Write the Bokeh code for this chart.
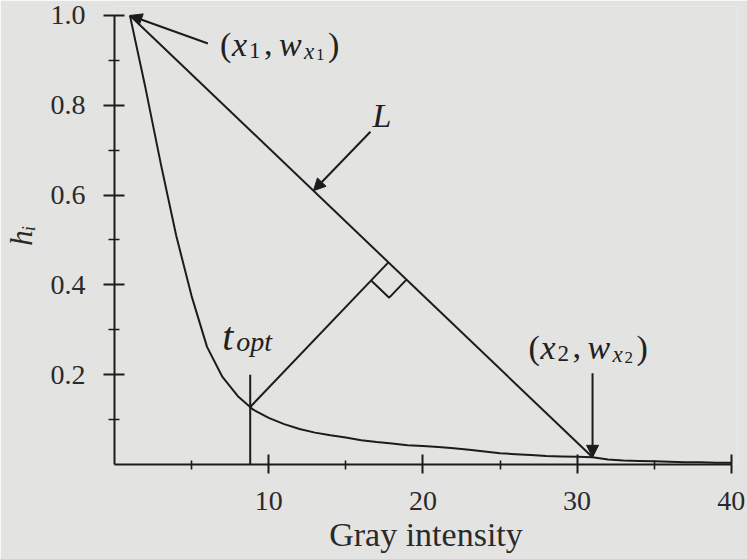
import numpy as np
from bokeh.plotting import figure
from bokeh.models import Range1d, FixedTicker, PrintfTickFormatter, Arrow, NormalHead
from bokeh.core.properties import value
from bokeh.embed import file_html
from bokeh.resources import INLINE

# normalised histogram profile h_i over gray levels
gray = list(range(1, 41))
h = [1.0, 0.84, 0.67, 0.51, 0.375, 0.262, 0.195, 0.152, 0.122, 0.104,
     0.090, 0.079, 0.071, 0.065, 0.060, 0.054, 0.050, 0.047, 0.043, 0.041,
     0.039, 0.036, 0.033, 0.029, 0.025, 0.023, 0.021, 0.019, 0.018, 0.017,
     0.016, 0.011, 0.009, 0.008, 0.007, 0.006, 0.005, 0.005, 0.004, 0.004]

x1, x2 = 1, 31          # end points of the line L
t_opt = 8.8             # threshold with the largest distance to L
x_L = 12.9              # where the "L" pointer touches the line

x_ticks = [10, 20, 30, 40]
x_minor = [5, 15, 25, 35]
y_ticks = [0.2, 0.4, 0.6, 0.8, 1.0]
y_minor = [0.1, 0.3, 0.5, 0.7, 0.9]

# ---- layout -------------------------------------------------------------
W, H = 747, 559
LEFT, RIGHT, TOP, BOTTOM = 114, 10, 6, 95
X0, X1 = 0, 40.4
Y0, Y1 = 0, 1.02
SX = (W - LEFT - RIGHT) / (X1 - X0)     # px per gray level
SY = (H - TOP - BOTTOM) / (Y1 - Y0)     # px per unit of h

BG = "#e3e3e1"
INK = "#1c1c1c"
SERIF = "Liberation Serif"

p = figure(width=W, height=H, x_range=Range1d(X0, X1), y_range=Range1d(Y0, Y1),
           output_backend="svg", toolbar_location=None,
           min_border_left=LEFT, min_border_right=RIGHT,
           min_border_top=TOP, min_border_bottom=BOTTOM,
           background_fill_color=BG, border_fill_color=BG,
           outline_line_color=None)
p.grid.visible = False

for ax in (p.xaxis[0], p.yaxis[0]):
    ax.axis_line_color = INK
    ax.axis_line_width = 2
    ax.major_tick_line_color = INK
    ax.major_tick_line_width = 2
    ax.minor_tick_line_color = INK
    ax.minor_tick_line_width = 1.6
    ax.major_label_text_font = SERIF
    ax.major_label_text_font_size = "28px"
    ax.major_label_text_color = "#2a2a2a"
    ax.axis_label_text_font = SERIF
    ax.axis_label_text_color = "#2a2a2a"

xa = p.xaxis[0]
xa.ticker = FixedTicker(ticks=x_ticks, minor_ticks=x_minor)
xa.formatter = PrintfTickFormatter(format="%d")
xa.bounds = (0, 40)
xa.major_tick_in, xa.major_tick_out = 10, 9
xa.minor_tick_in, xa.minor_tick_out = 4, 5
xa.major_label_standoff = 18
xa.axis_label = "Gray intensity"
xa.axis_label_text_font_style = "normal"
xa.axis_label_text_font_size = "34px"
xa.axis_label_standoff = 3

ya = p.yaxis[0]
ya.ticker = FixedTicker(ticks=y_ticks, minor_ticks=y_minor)
ya.formatter = PrintfTickFormatter(format="%.1f")
ya.bounds = (0, 1.0)
ya.major_tick_in, ya.major_tick_out = 10, 11
ya.minor_tick_in, ya.minor_tick_out = 5, 6
ya.major_label_standoff = 18
ya.axis_label = "hᵢ"
ya.axis_label_text_font_style = "italic"
ya.axis_label_text_font_size = "31px"
ya.axis_label_standoff = 9

# ---- curve and construction lines --------------------------------------
w1 = h[gray.index(x1)]
w2 = h[gray.index(x2)]
h_t = float(np.interp(t_opt, gray, h))

p.line(gray, h, line_color=INK, line_width=2)
p.line([x1, x2], [w1, w2], line_color=INK, line_width=2)
p.line([t_opt, t_opt], [0, 0.2], line_color=INK, line_width=2)

# perpendicular from (t_opt, h_t) to L, worked out in screen proportions
P1 = np.array([x1 * SX, w1 * SY])
P2 = np.array([x2 * SX, w2 * SY])
T = np.array([t_opt * SX, h_t * SY])
d = (P2 - P1) / np.linalg.norm(P2 - P1)
F = P1 + np.dot(T - P1, d) * d
n = (T - F) / np.linalg.norm(T - F)
p.line([T[0] / SX, F[0] / SX], [T[1] / SY, F[1] / SY], line_color=INK, line_width=2)

s = 25
A, C, B = F + s * n, F + s * n + s * d, F + s * d
p.line([A[0] / SX, C[0] / SX, B[0] / SX], [A[1] / SY, C[1] / SY, B[1] / SY],
       line_color=INK, line_width=2)

# ---- pointers -----------------------------------------------------------
def shifted(x, y, dx, dy):
    """data point moved by (dx, dy) screen pixels, dy measured downward"""
    return x + dx / SX, y - dy / SY

def pointer(x, y, dx, dy):
    xs, ys = shifted(x, y, dx, dy)
    head = NormalHead(size=12, fill_color=INK, line_color=INK, line_width=1)
    p.add_layout(Arrow(end=head, x_start=xs, y_start=ys, x_end=x, y_end=y,
                       line_color=INK, line_width=2))

y_L = w1 + (w2 - w1) * (x_L - x1) / (x2 - x1)

pointer(x1, w1, 78, 28)
pointer(x_L, y_L, 57, -59)
pointer(x2, w2, 0, -84)

# ---- math labels built from pieces -------------------------------------
def pieces(x, y, dx, dy, parts):
    for txt, ox, oy, size, style in parts:
        p.text(x=[x], y=[y], text=[txt], x_offset=dx + ox, y_offset=dy + oy,
               text_font=value(SERIF), text_font_style=style,
               text_font_size=f"{size}px", text_color="#202020",
               text_align="left", text_baseline="alphabetic")

def point_label(sub):
    return [("(", 0, 0, 34, "normal"), ("x", 12, 0, 34, "italic"),
            (sub, 29, 6, 23, "normal"), (",", 44, 0, 34, "normal"),
            ("w", 59, 0, 34, "italic"), ("x", 84, 7, 23, "italic"),
            (sub, 96, 10, 17, "normal"), (")", 108, 0, 34, "normal")]

pieces(x1, w1, 90, 29, point_label("1"))
pieces(x2, w2, -64, -110, point_label("2"))
pieces(x_L, y_L, 59, -75, [("L", 0, 0, 34, "italic")])
pieces(t_opt, h_t, 0, -14, [("t", -28, -57, 40, "italic"), ("opt", -14, -52, 28, "italic")])

open("out.html", "w").write(file_html(p, INLINE))
